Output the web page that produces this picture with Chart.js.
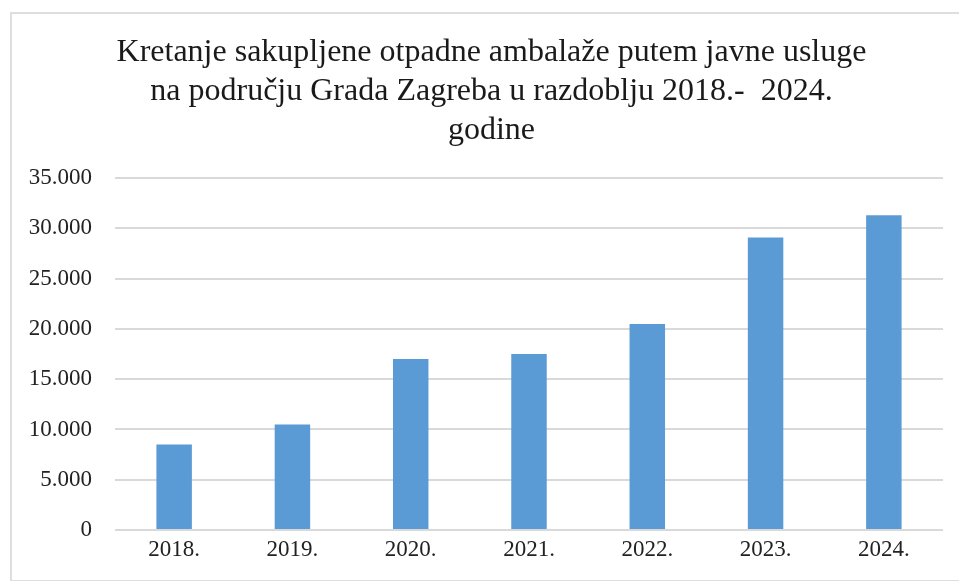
<!DOCTYPE html>
<html>
<head>
<meta charset="utf-8">
<script src="https://cdn.jsdelivr.net/npm/chart.js@4"></script>
<style>
  body { margin: 0; background: #fff; }
  #frame { position: absolute; left: 10px; top: 12px; width: 960px; height: 566px; border: 2px solid #dedede; }
  #wrap { position: absolute; left: 0; top: 0; width: 959px; height: 581px; }
</style>
</head>
<body>
<div id="frame"></div>
<div id="wrap"><canvas id="barChart"></canvas></div>
<script>
const years = ['2018.', '2019.', '2020.', '2021.', '2022.', '2023.', '2024.'];
const amounts = [8500, 10500, 17000, 17500, 20500, 29100, 31300];
const titleLines = [
  'Kretanje sakupljene otpadne ambalaže putem javne usluge',
  'na području Grada Zagreba u razdoblju 2018.-  2024.',
  'godine'
];

const serif = "'Liberation Serif', 'Times New Roman', serif";

// the title in the original sits a bit right of the canvas centre
const shiftTitle = {
  id: 'shiftTitle',
  afterLayout(chart) {
    if (chart.titleBlock) chart.titleBlock.left = 40;
  }
};

let ctx = document.getElementById('barChart');
let barChart = new Chart(ctx, {
  type: 'bar',
  data: {
    labels: years,
    datasets: [{
      data: amounts,
      backgroundColor: '#5b9bd5',
      borderWidth: 0,
      barPercentage: 0.3,
      categoryPercentage: 1
    }]
  },
  options: {
    responsive: true,
    maintainAspectRatio: false,
    animation: false,
    layout: { padding: { left: 0, right: 16, top: 0, bottom: 0 } },
    plugins: {
      legend: { display: false },
      tooltip: { enabled: false },
      title: {
        display: true,
        text: titleLines,
        color: '#1a1a1a',
        font: { family: serif, size: 32, weight: 'normal', lineHeight: 1.22 },
        padding: { top: 33, bottom: 28 }
      }
    },
    scales: {
      x: {
        grid: { display: false, drawTicks: false },
        border: { display: false },
        ticks: { color: '#222', font: { family: serif, size: 23 }, padding: 6 },
        afterFit: s => { s.height = 51; }
      },
      y: {
        min: 0,
        max: 35000,
        ticks: {
          stepSize: 5000,
          color: '#222',
          padding: 23,
          font: { family: serif, size: 23 },
          callback: v => String(v).replace(/\B(?=(\d{3})+(?!\d))/g, '.')
        },
        grid: { color: '#d9d9d9', lineWidth: 2, drawTicks: false },
        border: { display: false },
        afterFit: s => { s.width = 115; }
      }
    }
  },
  plugins: [shiftTitle]
});
</script>
</body>
</html>
